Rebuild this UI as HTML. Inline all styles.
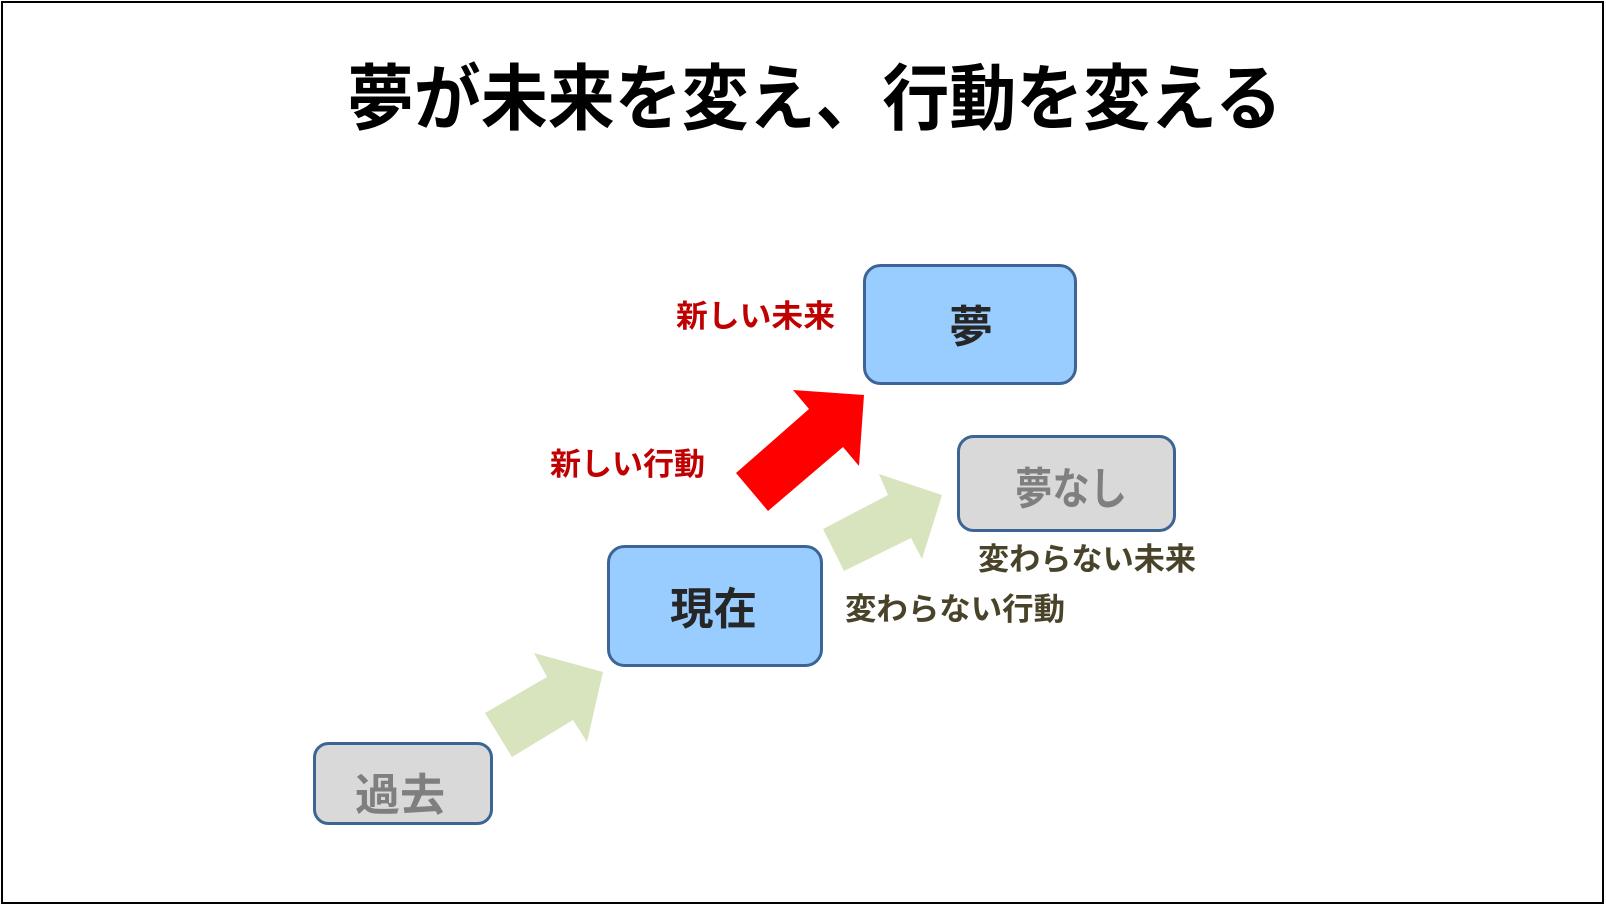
<!DOCTYPE html>
<html>
<head>
<meta charset="utf-8">
<style>
  html, body { margin:0; padding:0; background:#fff; }
  svg { display:block; }
  text { font-family: "Liberation Sans", "Noto Sans CJK JP", sans-serif; font-weight:700; }
</style>
</head>
<body>
<svg width="1606" height="906" viewBox="0 0 1606 906" xmlns="http://www.w3.org/2000/svg">
  <rect x="0" y="0" width="1606" height="906" fill="#ffffff"/>
  <rect x="2" y="2" width="1601" height="901" fill="none" stroke="#000" stroke-width="2"/>

  <!-- Title -->
  <text x="347" y="124" font-size="72" fill="#000" textLength="935" lengthAdjust="spacingAndGlyphs">夢が未来を変え、行動を変える</text>

  <!-- Arrows -->
  <polygon points="485,713 547,677 534,653 603,672 587,742 573,720 512,757" fill="#D7E4BD"/>
  <polygon points="823,529 888,495 879,474 942,495 922,559 911,538 844,571" fill="#D7E4BD"/>
  <polygon points="736,473 809,409 793,390 864,395 859,466 843,447 768,511" fill="#FF0000"/>

  <!-- Boxes -->
  <rect x="314.5" y="743.5" width="177" height="80" rx="14" ry="14" fill="#D9D9D9" stroke="#3C6595" stroke-width="3"/>
  <rect x="608.5" y="546.5" width="213" height="119" rx="16" ry="16" fill="#99CCFF" stroke="#3C6595" stroke-width="3"/>
  <rect x="864.5" y="265.5" width="211" height="118" rx="16" ry="16" fill="#99CCFF" stroke="#3C6595" stroke-width="3"/>
  <rect x="958.5" y="436.5" width="216" height="94" rx="15" ry="15" fill="#D9D9D9" stroke="#3C6595" stroke-width="3"/>

  <!-- Box texts -->
  <text x="355" y="810" font-size="44" fill="#7F7F7F" textLength="90" lengthAdjust="spacingAndGlyphs">過去</text>
  <text x="670" y="624" font-size="44" fill="#262626" textLength="87" lengthAdjust="spacingAndGlyphs">現在</text>
  <text x="949" y="342" font-size="44" fill="#262626" textLength="44" lengthAdjust="spacingAndGlyphs">夢</text>
  <text x="1015" y="504" font-size="44" fill="#7F7F7F" textLength="112" lengthAdjust="spacingAndGlyphs">夢なし</text>

  <!-- Labels -->
  <text x="676" y="327" font-size="31" fill="#C00000" textLength="159" lengthAdjust="spacingAndGlyphs">新しい未来</text>
  <text x="550" y="475" font-size="31" fill="#C00000" textLength="155" lengthAdjust="spacingAndGlyphs">新しい行動</text>
  <text x="845" y="620" font-size="31" fill="#494429" textLength="220" lengthAdjust="spacingAndGlyphs">変わらない行動</text>
  <text x="978" y="570" font-size="31" fill="#494429" textLength="218" lengthAdjust="spacingAndGlyphs">変わらない未来</text>
</svg>
</body>
</html>
